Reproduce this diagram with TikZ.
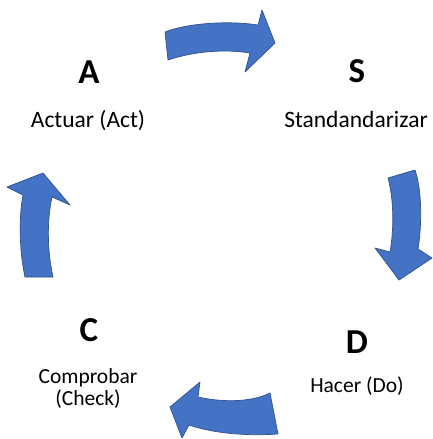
\documentclass[tikz,border=0pt]{standalone}
\usepackage{fontspec}
\setmainfont{Carlito}
\definecolor{azul}{HTML}{4472C4}
\definecolor{azulborde}{HTML}{2F528F}

\begin{document}
\begin{tikzpicture}[x=1pt,y=-1pt,
  flecha/.style={fill=azul,draw=azulborde,line width=0.7pt,line join=round},
  letra/.style={font=\fontsize{35}{40}\selectfont\bfseries},
  texto/.style={font=\fontsize{23.5}{20}\selectfont,align=center,anchor=base},
  textochico/.style={texto,font=\fontsize{21.5}{22}\selectfont}]
\useasboundingbox (0,0) rectangle (433,439);
\draw[flecha] (165,32) .. controls (185,24) and (225,20) .. (258,25)
  -- (262,10) -- (275,43) -- (245,72) -- (250,53)
  .. controls (225,49) and (195,51) .. (168,60) -- cycle;
\draw[flecha] (388,178) -- (415,170)
  .. controls (422,190) and (422,225) .. (418,249)
  -- (432,258) -- (399,280) -- (375,248) -- (390,252)
  .. controls (394,230) and (394,200) .. (388,178);
\draw[flecha] (270,393) .. controls (250,403) and (220,402) .. (198,397)
  -- (200,382) -- (170,407) -- (182,438) -- (189,425)
  .. controls (215,434) and (250,436) .. (278,434) -- cycle;
\draw[flecha] (25,277) .. controls (19,250) and (19,215) .. (23,195)
  -- (7,187) -- (43,173) -- (70,205) -- (52,197)
  .. controls (47,220) and (47,250) .. (53,277) -- cycle;
\node[letra] (A) at (89,72.5) {A};
\node[letra] (S) at (357,71) {S};
\node[letra] (C) at (89,330) {C};
\node[letra] (D) at (357,342) {D};
\node[texto] (actuar) at (88,127) {Actuar (Act)};
\node[texto] (estandar) at (356,127) {Standandarizar};
\node[textochico] (comprobar) at (88,405) {Comprobar\\(Check)};
\node[textochico] (hacer) at (357,392) {Hacer (Do)};
\end{tikzpicture}
\end{document}
